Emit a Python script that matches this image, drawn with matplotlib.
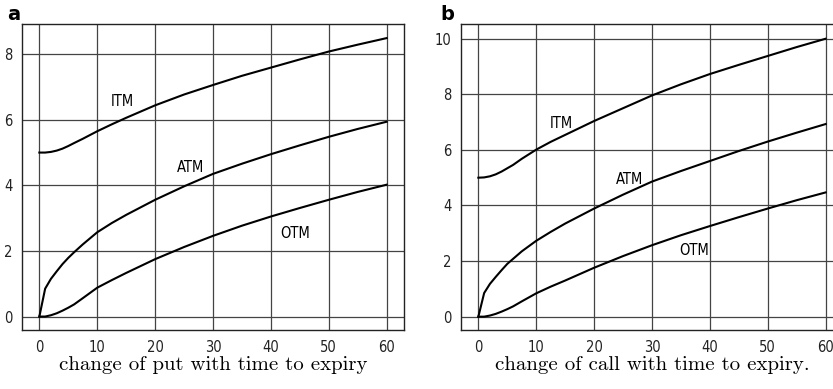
import numpy as np
from matplotlib import pyplot as plt
from matplotlib import font_manager

# time to expiry (x) and option values
t = [0, 1, 2, 3, 4, 5, 6, 7.5, 10, 12.5, 15, 20, 25, 30, 35, 40, 45, 50, 55, 60]

put_itm = [5.0, 5.0, 5.02, 5.06, 5.12, 5.2, 5.29, 5.42, 5.65, 5.86, 6.06, 6.44, 6.77, 7.06, 7.34, 7.59, 7.84, 8.08, 8.29, 8.49]
put_atm = [0.0, 0.85, 1.15, 1.38, 1.6, 1.79, 1.96, 2.2, 2.57, 2.85, 3.1, 3.56, 3.97, 4.35, 4.66, 4.95, 5.22, 5.48, 5.72, 5.94]
put_otm = [0.0, 0.0, 0.04, 0.1, 0.18, 0.27, 0.37, 0.56, 0.88, 1.11, 1.33, 1.75, 2.12, 2.46, 2.77, 3.05, 3.31, 3.56, 3.8, 4.02]

call_itm = [5.0, 5.01, 5.05, 5.12, 5.22, 5.34, 5.46, 5.68, 6.01, 6.29, 6.54, 7.04, 7.5, 7.96, 8.36, 8.73, 9.06, 9.38, 9.7, 10.0]
call_atm = [0.0, 0.85, 1.18, 1.43, 1.67, 1.9, 2.08, 2.35, 2.73, 3.05, 3.35, 3.89, 4.39, 4.86, 5.24, 5.6, 5.96, 6.3, 6.62, 6.93]
call_otm = [0.0, 0.0, 0.04, 0.1, 0.18, 0.27, 0.37, 0.55, 0.84, 1.08, 1.3, 1.76, 2.18, 2.57, 2.93, 3.26, 3.58, 3.89, 4.19, 4.47]

x_ticks = [0, 10, 20, 30, 40, 50, 60]
put_yticks = [0, 2, 4, 6, 8]
call_yticks = [0, 2, 4, 6, 8, 10]

names = [f.name for f in font_manager.fontManager.ttflist]
sans = "Liberation Sans Narrow" if "Liberation Sans Narrow" in names else "DejaVu Sans"
serif = "cmr10" if "cmr10" in names else "DejaVu Serif"

fig = plt.figure(figsize=(8.33, 3.89), dpi=100)
ax1 = fig.add_axes([22 / 833, 59 / 389, 382 / 833, 306 / 389])
ax2 = fig.add_axes([461 / 833, 59 / 389, 382 / 833, 306 / 389])


def setup(ax, yticks, ylim, xlabel):
    ax.set_xlim(-3, 63)
    ax.set_ylim(*ylim)
    ax.set_xticks(x_ticks)
    ax.set_yticks(yticks)
    ax.grid(True, color="#444444", linewidth=0.9)
    ax.set_axisbelow(True)
    ax.tick_params(length=0, pad=7, labelsize=10.5, labelcolor="#222222")
    for lab in ax.get_xticklabels() + ax.get_yticklabels():
        lab.set_family(sans)
        lab.set_stretch("condensed")
    for sp in ax.spines.values():
        sp.set_linewidth(1.0)
        sp.set_color("#222222")
    ax.set_xlabel(xlabel, family=serif, fontsize=15, labelpad=1)


setup(ax1, put_yticks, (-0.41, 8.92), "change of put with time to expiry")
setup(ax2, call_yticks, (-0.48, 10.53), "change of call with time to expiry.")

for ys in (put_itm, put_atm, put_otm):
    ax1.plot(t, ys, color="black", linewidth=1.5)
for ys in (call_itm, call_atm, call_otm):
    ax2.plot(t, ys, color="black", linewidth=1.5)

lab_kw = dict(family=sans, stretch="condensed", fontsize=10.5, ha="center", va="center")
ax1.text(14.3, 6.55, "ITM", **lab_kw)
ax1.text(26.1, 4.54, "ATM", **lab_kw)
ax1.text(44.2, 2.54, "OTM", **lab_kw)
ax2.text(14.3, 6.96, "ITM", **lab_kw)
ax2.text(26.1, 4.95, "ATM", **lab_kw)
ax2.text(37.2, 2.37, "OTM", **lab_kw)

fig.text(7 / 833, 1 - 14.5 / 389, "a", fontsize=14, fontweight="bold", va="center", ha="left")
fig.text(440 / 833, 1 - 14.5 / 389, "b", fontsize=14, fontweight="bold", va="center", ha="left")

fig.savefig("out.png", dpi=100)
